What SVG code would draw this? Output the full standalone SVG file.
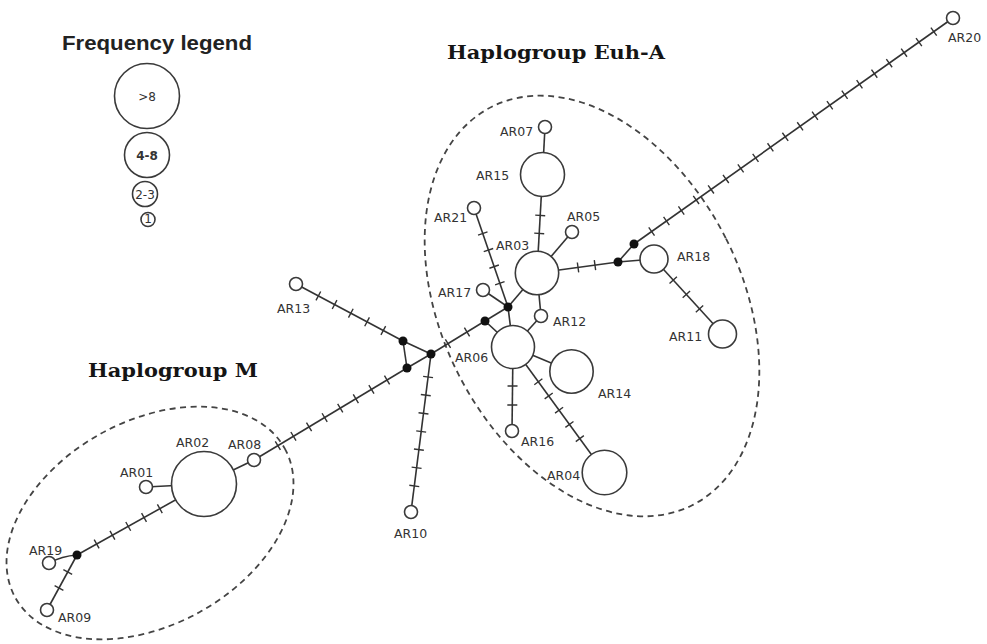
<svg xmlns="http://www.w3.org/2000/svg" width="987" height="644" viewBox="0 0 987 644">
<style>
.bg{fill:#ffffff}
.e{stroke:#333;stroke-width:1.6;fill:none}
.t{stroke:#333;stroke-width:10;fill:none}
.n{fill:#fff;stroke:#3a3a3a;stroke-width:1.6}
.j{fill:#111;stroke:none}
.lbl{font-family:"DejaVu Sans",sans-serif;font-size:12.5px;fill:#333}
.title{font-family:"DejaVu Serif","Liberation Serif",serif;font-weight:bold;font-size:18px;fill:#151515}
.grp{fill:none;stroke:#444;stroke-width:1.8;stroke-dasharray:6 4.5}
.leg{font-family:"DejaVu Sans",sans-serif;font-size:12px;fill:#333;text-anchor:middle}
</style>
<rect class="bg" x="0" y="0" width="987" height="644"/>

<g id="legend">
  <text x="62" y="50" font-family="Liberation Sans, Arial, sans-serif" font-weight="bold" font-size="20" fill="#222" textLength="190" lengthAdjust="spacingAndGlyphs">Frequency legend</text>
  <circle class="n" cx="147" cy="96" r="32.5"/>
  <text class="leg" x="147" y="101">&gt;8</text>
  <circle class="n" cx="147" cy="155" r="22.5"/>
  <text class="leg" x="147" y="160" font-weight="bold">4-8</text>
  <circle class="n" cx="145" cy="194" r="12.5"/>
  <text class="leg" x="145" y="198.5" font-size="11">2-3</text>
  <circle class="n" cx="148" cy="219.5" r="7"/>
  <text class="leg" x="148" y="223" font-size="9.5">1</text>
</g>

<g id="groups">
  <ellipse class="grp" cx="592" cy="306" rx="150" ry="223" transform="rotate(-26.7 592 306)"/>
  <ellipse class="grp" cx="150" cy="523" rx="154" ry="102" transform="rotate(-29 150 523)"/>
  <text class="title" x="447" y="59" textLength="218" lengthAdjust="spacingAndGlyphs">Haplogroup Euh-A</text>
  <text class="title" x="88" y="377" textLength="170" lengthAdjust="spacingAndGlyphs">Haplogroup M</text>
</g>

<g id="connectors">
  <!-- plain edges -->
  <line class="e" x1="545" y1="127" x2="542.5" y2="174.5"/>
  <line class="e" x1="537" y1="273" x2="572" y2="232"/>
  <line class="e" x1="537" y1="273" x2="508" y2="307"/>
  <line class="e" x1="483" y1="290" x2="508" y2="307"/>
  <line class="e" x1="508" y1="307" x2="485" y2="321"/>
  <line class="e" x1="508" y1="307" x2="513" y2="347"/>
  <line class="e" x1="537" y1="273" x2="541" y2="316"/>
  <line class="e" x1="541" y1="316" x2="513" y2="347"/>
  <line class="e" x1="485" y1="321" x2="513" y2="347"/>
  <line class="e" x1="618" y1="262" x2="654" y2="259"/>
  <line class="e" x1="618" y1="262" x2="634" y2="244"/>
  <line class="e" x1="513" y1="347" x2="571.5" y2="371.5"/>
  <line class="e" x1="403" y1="341" x2="431" y2="354"/>
  <line class="e" x1="403" y1="341" x2="407" y2="368"/>
  <line class="e" x1="407" y1="368" x2="431" y2="354"/>
  <line class="e" x1="204" y1="484" x2="254" y2="460"/>
  <line class="e" x1="204" y1="484" x2="146" y2="487"/>
  <path class="e" d="M49,563 Q62,556 77,555"/>
  <!-- edges carrying mutation ticks -->
  <line class="e" x1="542.5" y1="174.5" x2="537" y2="273"/>
  <line class="e" x1="474" y1="208" x2="508" y2="307"/>
  <line class="e" x1="537" y1="273" x2="618" y2="262"/>
  <line class="e" x1="634" y1="244" x2="953" y2="18"/>
  <line class="e" x1="654" y1="259" x2="722.5" y2="334"/>
  <line class="e" x1="513" y1="347" x2="512" y2="431"/>
  <line class="e" x1="513" y1="347" x2="604.5" y2="472.5"/>
  <line class="e" x1="296" y1="284" x2="403" y2="341"/>
  <line class="e" x1="431" y1="354" x2="485" y2="321"/>
  <line class="e" x1="407" y1="368" x2="254" y2="460"/>
  <line class="e" x1="431" y1="354" x2="411" y2="512"/>
  <line class="e" x1="204" y1="484" x2="77" y2="555"/>
  <line class="e" x1="77" y1="555" x2="47" y2="610"/>
  <!-- tick overlays -->
  <line class="t" x1="542.5" y1="174.5" x2="537" y2="273" stroke-dasharray="0 40.3 1.4 16.6 1.4 200"/>
  <line class="t" x1="474" y1="208" x2="508" y2="307" stroke-dasharray="0 26.3 1.4 16.1 1.4 16.1 1.4 16.1 1.4 200"/>
  <line class="t" x1="537" y1="273" x2="618" y2="262" stroke-dasharray="0 40.7 1.4 15.7 1.4 200"/>
  <line class="t" x1="634" y1="244" x2="953" y2="18" stroke-dasharray="0 20.9 1.4 16.8 1.4 16.8 1.4 16.8 1.4 16.8 1.4 16.8 1.4 16.8 1.4 16.8 1.4 16.8 1.4 16.8 1.4 16.8 1.4 16.8 1.4 16.8 1.4 16.8 1.4 16.8 1.4 16.8 1.4 16.8 1.4 16.8 1.4 16.8 1.4 16.8 1.4 500"/>
  <line class="t" x1="654" y1="259" x2="722.5" y2="334" stroke-dasharray="0 27.8 1.4 18.1 1.4 18.1 1.4 200"/>
  <line class="t" x1="513" y1="347" x2="512" y2="431" stroke-dasharray="0 38.3 1.4 17.6 1.4 200"/>
  <line class="t" x1="513" y1="347" x2="604.5" y2="472.5" stroke-dasharray="0 42.3 1.4 16.2 1.4 16.2 1.4 16.2 1.4 16.2 1.4 300"/>
  <line class="t" x1="296" y1="284" x2="403" y2="341" stroke-dasharray="0 24.6 1.4 17 1.4 17 1.4 17 1.4 17 1.4 300"/>
  <line class="t" x1="431" y1="354" x2="485" y2="321" stroke-dasharray="0 19.2 1.4 20.9 1.4 100"/>
  <line class="t" x1="407" y1="368" x2="254" y2="460" stroke-dasharray="0 22.6 1.4 16.8 1.4 16.8 1.4 16.8 1.4 16.8 1.4 16.8 1.4 16.8 1.4 16.8 1.4 300"/>
  <line class="t" x1="431" y1="354" x2="411" y2="512" stroke-dasharray="0 22.5 1.4 16.9 1.4 16.9 1.4 16.9 1.4 16.9 1.4 16.9 1.4 16.9 1.4 300"/>
  <line class="t" x1="204" y1="484" x2="77" y2="555" stroke-dasharray="0 49.9 1.4 16.7 1.4 16.7 1.4 16.7 1.4 16.7 1.4 300"/>
  <line class="t" x1="77" y1="555" x2="47" y2="610" stroke-dasharray="0 18.6 1.4 16.9 1.4 100"/>
</g>

<!-- median / junction vectors -->
<g id="J1"><circle class="j" cx="508" cy="307" r="4.5"/></g>
<g id="J2"><circle class="j" cx="485" cy="321" r="4.5"/></g>
<g id="J3"><circle class="j" cx="618" cy="262" r="4.5"/></g>
<g id="J4"><circle class="j" cx="634" cy="244" r="4.5"/></g>
<g id="J5"><circle class="j" cx="403" cy="341" r="4.5"/></g>
<g id="J6"><circle class="j" cx="407" cy="368" r="4.5"/></g>
<g id="J7"><circle class="j" cx="431" cy="354" r="4.5"/></g>
<g id="J8"><circle class="j" cx="77" cy="555" r="4.5"/></g>

<!-- haplotypes -->
<g id="AR07"><circle class="n" cx="545" cy="127" r="6.5"/><text class="lbl" x="500" y="136">AR07</text></g>
<g id="AR15"><circle class="n" cx="542.5" cy="174.5" r="22"/><text class="lbl" x="476" y="180">AR15</text></g>
<g id="AR21"><circle class="n" cx="474" cy="208" r="6.5"/><text class="lbl" x="434" y="222">AR21</text></g>
<g id="AR05"><circle class="n" cx="572" cy="232" r="6.5"/><text class="lbl" x="567" y="221">AR05</text></g>
<g id="AR03"><circle class="n" cx="537" cy="273" r="21.7"/><text class="lbl" x="496" y="250">AR03</text></g>
<g id="AR17"><circle class="n" cx="483" cy="290" r="6.5"/><text class="lbl" x="438" y="297">AR17</text></g>
<g id="AR12"><circle class="n" cx="541" cy="316" r="6.5"/><text class="lbl" x="553" y="326">AR12</text></g>
<g id="AR06"><circle class="n" cx="513" cy="347" r="21.5"/><text class="lbl" x="455" y="362">AR06</text></g>
<g id="AR14"><circle class="n" cx="571.5" cy="371.5" r="21.7"/><text class="lbl" x="598" y="398">AR14</text></g>
<g id="AR16"><circle class="n" cx="512" cy="431" r="6.5"/><text class="lbl" x="521" y="446">AR16</text></g>
<g id="AR04"><circle class="n" cx="604.5" cy="472.5" r="22.3"/><text class="lbl" x="547" y="480">AR04</text></g>
<g id="AR18"><circle class="n" cx="654" cy="259" r="14"/><text class="lbl" x="677" y="261">AR18</text></g>
<g id="AR11"><circle class="n" cx="722.5" cy="334" r="14"/><text class="lbl" x="669" y="341">AR11</text></g>
<g id="AR20"><circle class="n" cx="953" cy="18" r="6.5"/><text class="lbl" x="948" y="42" font-size="11">AR20</text></g>
<g id="AR13"><circle class="n" cx="296" cy="284" r="6.5"/><text class="lbl" x="277" y="313">AR13</text></g>
<g id="AR10"><circle class="n" cx="411" cy="512" r="6.5"/><text class="lbl" x="394" y="538">AR10</text></g>
<g id="AR02"><circle class="n" cx="204" cy="484" r="32.5"/><text class="lbl" x="176" y="447">AR02</text></g>
<g id="AR08"><circle class="n" cx="254" cy="460" r="6.5"/><text class="lbl" x="228" y="449">AR08</text></g>
<g id="AR01"><circle class="n" cx="146" cy="487" r="6.5"/><text class="lbl" x="120" y="477">AR01</text></g>
<g id="AR19"><circle class="n" cx="49" cy="563" r="6.5"/><text class="lbl" x="29" y="555">AR19</text></g>
<g id="AR09"><circle class="n" cx="47" cy="610" r="6.5"/><text class="lbl" x="58" y="622">AR09</text></g>
</svg>
